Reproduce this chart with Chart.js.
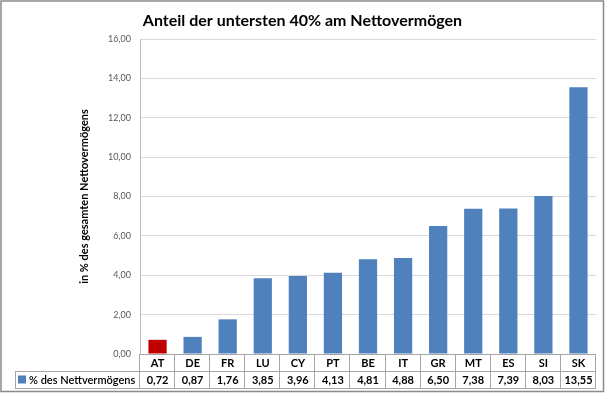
<!DOCTYPE html>
<html>
<head>
<meta charset="utf-8">
<script src="https://cdn.jsdelivr.net/npm/chart.js@4"></script>
<style>
html,body{margin:0;padding:0;background:#fff;}
canvas{display:block;}
</style>
</head>
<body>
<canvas id="c" width="605" height="394"></canvas>
<script>
const chartTitle = 'Anteil der untersten 40% am Nettovermögen';
const yAxisTitle = 'in % des gesamten Nettovermögens';
const seriesName = '% des Nettvermögens';
const categories = ['AT','DE','FR','LU','CY','PT','BE','IT','GR','MT','ES','SI','SK'];
const values = [0.72,0.87,1.76,3.85,3.96,4.13,4.81,4.88,6.50,7.38,7.39,8.03,13.55];
const highlight = ['AT'];
const yMin = 0, yMax = 16, yStep = 2;

const FONT = 'Lato';
const BLUE = '#4F81BD', RED = '#C00000';
const fmt = v => v.toFixed(2).replace('.', ',');

const tablePlugin = {
  id: 'tablePlugin',
  afterDraw(chart) {
    const ctx = chart.ctx;
    const xs = chart.scales.x, ys = chart.scales.y;
    const ca = chart.chartArea;
    const y0 = ca.bottom, y1 = ca.bottom + 17, y2 = ca.bottom + 34;
    const left = 15;
    const colW = (ca.right - ca.left) / categories.length;
    ctx.save();
    ctx.strokeStyle = '#a6a6a6';
    ctx.lineWidth = 1;
    ctx.beginPath();
    ctx.moveTo(ca.left, y0 + 0.5); ctx.lineTo(ca.right, y0 + 0.5);
    ctx.moveTo(left, y1 + 0.5); ctx.lineTo(ca.right, y1 + 0.5);
    ctx.moveTo(left, y2 + 0.5); ctx.lineTo(ca.right, y2 + 0.5);
    for (let i = 0; i <= categories.length; i++) {
      const x = Math.round(ca.left + i * colW) - 0.5;
      ctx.moveTo(x, y0); ctx.lineTo(x, y2);
    }
    ctx.moveTo(left + 0.5, y1); ctx.lineTo(left + 0.5, y2);
    ctx.stroke();
    // values row
    ctx.fillStyle = '#000';
    ctx.font = 'bold 11px ' + FONT;
    ctx.textAlign = 'center';
    ctx.textBaseline = 'middle';
    values.forEach((v, i) => {
      ctx.fillText(fmt(v), xs.getPixelForValue(i), (y1 + y2) / 2 + 1);
    });
    // legend key
    ctx.fillStyle = BLUE;
    ctx.fillRect(18, (y1 + y2) / 2 - 4, 8, 8);
    ctx.fillStyle = '#000';
    ctx.textAlign = 'left';
    ctx.font = '600 11px ' + FONT;
    ctx.fillText(seriesName, 29, (y1 + y2) / 2 + 1);
    // title
    ctx.font = 'bold 16px ' + FONT;
    ctx.textAlign = 'center';
    ctx.textBaseline = 'alphabetic';
    ctx.fillText(chartTitle, 302.5, 26);
    // frame
    ctx.strokeStyle = '#8a8a8a';
    ctx.lineWidth = 1.5;
    ctx.strokeRect(1, 1, 602.5, 390.5);
    ctx.restore();
  }
};

new Chart(document.getElementById('c'), {
  type: 'bar',
  data: {
    labels: categories,
    datasets: [{
      label: seriesName,
      data: values,
      backgroundColor: categories.map(c => highlight.includes(c) ? RED : BLUE),
      borderWidth: 0,
      barPercentage: 0.52,
      categoryPercentage: 1.0
    }]
  },
  options: {
    responsive: false,
    animation: false,
    layout: { padding: { top: 39, right: 9, left: 0, bottom: 0 } },
    plugins: { legend: { display: false }, title: { display: false }, tooltip: { enabled: false } },
    scales: {
      x: {
        grid: { display: false, drawTicks: false },
        border: { display: false },
        ticks: { color: '#000', font: { family: FONT, size: 11, weight: 'bold' }, padding: 3, maxRotation: 0, autoSkip: false },
        afterFit(s) { s.height = 40; }
      },
      y: {
        min: yMin, max: yMax,
        ticks: { stepSize: yStep, color: '#595959', font: { family: FONT, size: 9 }, padding: 9, callback: v => fmt(v) },
        grid: { color: '#d9d9d9', drawTicks: false },
        border: { display: true, color: '#bfbfbf' },
        title: { display: true, text: yAxisTitle, color: '#000', font: { family: FONT, size: 11, weight: 'bold' }, padding: { top: 78, bottom: 0 } },
        afterFit(s) { s.width = 140; }
      }
    }
  },
  plugins: [tablePlugin]
});
</script>
</body>
</html>
